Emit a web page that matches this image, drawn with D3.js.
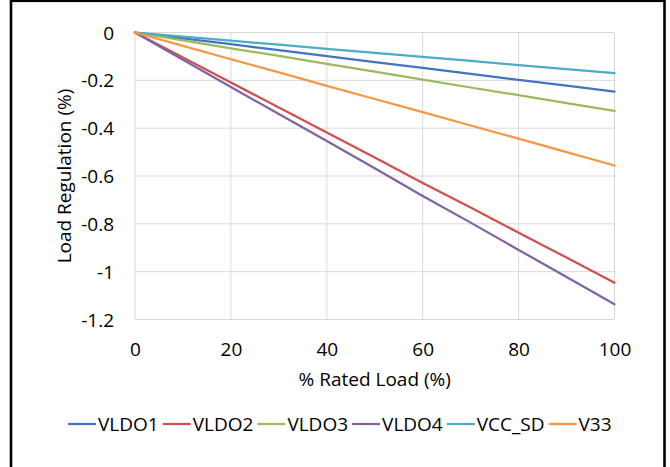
<!DOCTYPE html>
<html>
<head>
<meta charset="utf-8">
<script src="https://cdn.jsdelivr.net/npm/d3@7"></script>
<style>
  html, body { margin: 0; padding: 0; background: #fff; }
  svg { display: block; }
  text { font-family: "Open Sans", "Noto Sans", sans-serif; fill: #000; }
</style>
</head>
<body>
<svg id="chart" width="670" height="467"></svg>
<script>
// ---- data ----
const loadPct = [0, 10, 20, 30, 40, 50, 60, 70, 80, 90, 100];
const VLDO1  = [0, -0.025, -0.049, -0.074, -0.099, -0.124, -0.148, -0.173, -0.198, -0.222, -0.247];
const VLDO2  = [0, -0.105, -0.209, -0.314, -0.418, -0.523, -0.629, -0.732, -0.837, -0.941, -1.046];
const VLDO3  = [0, -0.033, -0.066, -0.098, -0.131, -0.164, -0.197, -0.230, -0.262, -0.295, -0.328];
const VLDO4  = [0, -0.114, -0.228, -0.341, -0.454, -0.568, -0.684, -0.795, -0.909, -1.022, -1.136];
const VCC_SD = [0, -0.017, -0.034, -0.051, -0.068, -0.085, -0.102, -0.119, -0.136, -0.153, -0.170];
const V33    = [0, -0.056, -0.112, -0.167, -0.223, -0.278, -0.333, -0.389, -0.444, -0.500, -0.556];
const seriesNames = ["VLDO1", "VLDO2", "VLDO3", "VLDO4", "VCC_SD", "V33"];
const seriesValues = [VLDO1, VLDO2, VLDO3, VLDO4, VCC_SD, V33];
const seriesColors = ["#4472C4", "#D0504D", "#9BBB59", "#8064A2", "#4BACC6", "#F79646"];
const xTicks = [0, 20, 40, 60, 80, 100];
const yTicks = [0, -0.2, -0.4, -0.6, -0.8, -1, -1.2];
const xTitle = "% Rated Load (%)";
const yTitle = "Load Regulation (%)";

// ---- layout ----
const svg = d3.select("#chart");
const plot = { left: 135, right: 614.5, top: 32.5, bottom: 319.5 };
const x = d3.scaleLinear().domain([0, 100]).range([plot.left, plot.right]);
const y = d3.scaleLinear().domain([-1.2, 0]).range([plot.bottom, plot.top]);

// frame
svg.append("rect")
  .attr("x", 11).attr("y", 0.8)
  .attr("width", 653.5).attr("height", 500)
  .attr("fill", "none").attr("stroke", "#000").attr("stroke-width", 2.6);

// gridlines
const grid = svg.append("g").attr("stroke", "#D9D9D9").attr("stroke-width", 1);
grid.selectAll("line.h").data(yTicks).join("line")
  .attr("x1", plot.left).attr("x2", plot.right)
  .attr("y1", d => y(d)).attr("y2", d => y(d));
grid.selectAll("line.v").data(xTicks).join("line")
  .attr("y1", plot.top).attr("y2", plot.bottom)
  .attr("x1", d => x(d)).attr("x2", d => x(d));

// axes (labels only)
const fmt = d => d === 0 ? "0" : String(d);
const xAxis = d3.axisBottom(x).tickValues(xTicks).tickFormat(fmt).tickSize(0).tickPadding(0);
const gx = svg.append("g").attr("transform", `translate(0,${plot.bottom})`).call(xAxis);
gx.select(".domain").remove();
gx.selectAll("text").attr("font-size", 19).attr("dy", 0).attr("y", 36.5)
  .style("font-family", "'Open Sans', sans-serif").attr("fill", "#000");

const yAxis = d3.axisLeft(y).tickValues(yTicks).tickFormat(fmt).tickSize(0).tickPadding(21);
const gy = svg.append("g").attr("transform", `translate(${plot.left},0)`).call(yAxis);
gy.select(".domain").remove();
gy.selectAll("text").attr("font-size", 19).attr("dy", "0.35em")
  .style("font-family", "'Open Sans', sans-serif").attr("fill", "#000");

// titles
svg.append("text").attr("x", (plot.left + plot.right) / 2).attr("y", 386)
  .attr("text-anchor", "middle").attr("font-size", 19).text(xTitle);
svg.append("text").attr("transform", `translate(71,${(plot.top + plot.bottom) / 2}) rotate(-90)`)
  .attr("text-anchor", "middle").attr("font-size", 19).text(yTitle);

// lines
const line = d3.line().x((d, i) => x(loadPct[i])).y(d => y(d));
svg.append("g").selectAll("path").data(seriesValues).join("path")
  .attr("d", d => line(d))
  .attr("fill", "none")
  .attr("stroke", (d, i) => seriesColors[i])
  .attr("stroke-width", 2.25)
  .attr("stroke-linejoin", "round")
  .attr("stroke-linecap", "round");

// legend
const legend = svg.append("g");
let lx = 68;
const ly = 424;
seriesNames.forEach((name, i) => {
  legend.append("line").attr("x1", lx).attr("x2", lx + 28).attr("y1", ly).attr("y2", ly)
    .attr("stroke", seriesColors[i]).attr("stroke-width", 2.25);
  const t = legend.append("text").attr("x", lx + 30).attr("y", ly).attr("dy", "0.35em")
    .attr("font-size", 19).text(name);
  lx += 30 + t.node().getComputedTextLength() + 4;
});
</script>
</body>
</html>
